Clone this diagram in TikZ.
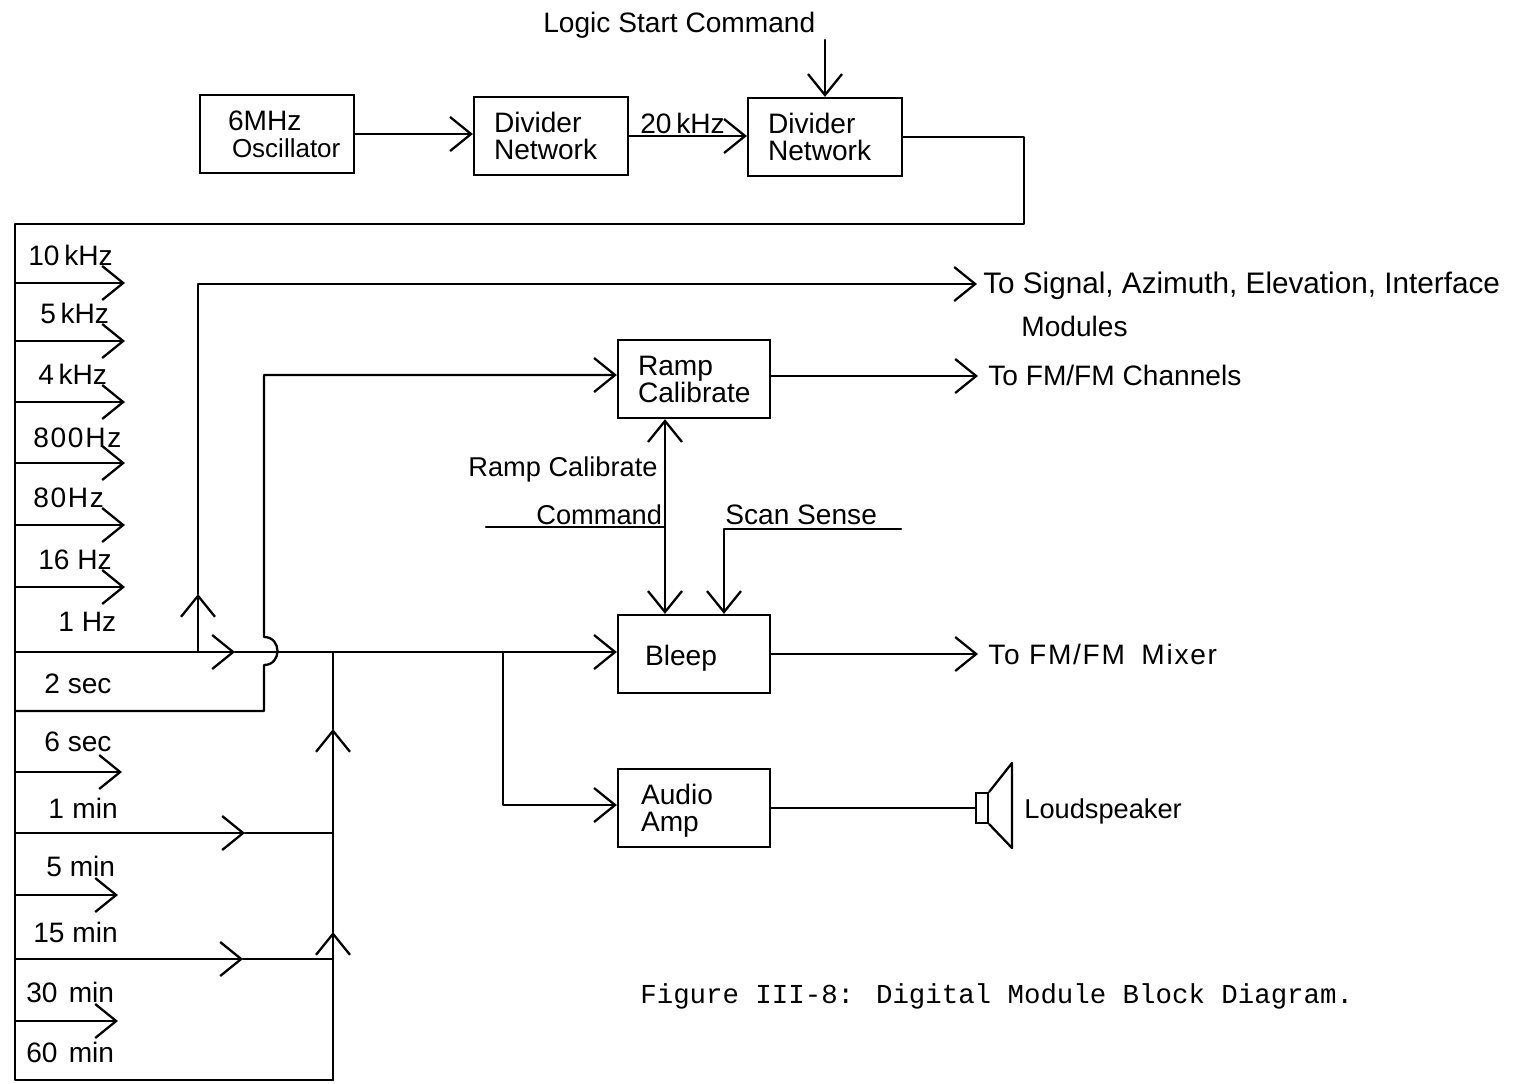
\documentclass[tikz,border=0pt]{standalone}
\usepackage{fontspec}
\setmainfont{Liberation Sans}
\newfontfamily\typedfont{Liberation Mono}
\newfontfamily\widefont[LetterSpace=6]{Liberation Sans}
\usetikzlibrary{arrows.meta}
\newcommand{\letterfont}{\fontsize{16}{15.4}\selectfont}
\newcommand{\tightfont}{\fontsize{15.5}{15.4}\selectfont}

\begin{document}
\begin{tikzpicture}[x=0.02cm, y=-0.02cm,
    wire/.style={line width=1.3pt, line cap=round, line join=round},
    flow/.style={wire, -{Straight Barb[length=0.42cm, width=0.68cm, line width=1.3pt]}},
    block/.style={draw, line width=1.3pt, font=\letterfont, align=left, inner xsep=0.4cm,
      inner ysep=0pt, text width=2.28cm, minimum height=1.56cm},
    tag/.style={font=\letterfont, anchor=base west, inner sep=0pt}]
    \useasboundingbox (0,0) rectangle (1514,1083);
    % Blocks
    \node[block] (osc) at (277,134)
      {\hspace*{0.16cm}6MHz\\\hspace*{0.24cm}\mbox{\fontsize{14.8}{15.4}\selectfont Oscillator}};
    \node[block] (divone) at (551,136) {Divider\\Network};
    \node[block] (divtwo) at (825,137) {Divider\\Network};
    \node[block, text width=2.24cm] (ramp) at (694,379) {Ramp\\Calibrate};
    \node[block, text width=2.24cm] (bleep) at (694,654)
      {\hspace*{0.14cm}\raisebox{-0.02cm}[0.4cm][0cm]{Bleep}};
    \node[block, text width=2.24cm] (audio) at (694,808)
      {\hspace*{0.06cm}\raisebox{0cm}[0.4cm][0cm]{Audio}\\\hspace*{0.06cm}\raisebox{0cm}[0.4cm][0cm]{Amp}};
    % Start command and clock chain
    \node[tag] (logic) at (543,32) {Logic Start Command};
    \coordinate (logicin) at (825,40);
    \draw[flow] (logicin) -- (divtwo.north);
    \draw[flow] (osc.east) -- (divone.west |- osc.east);
    \draw[flow] (divone.east) -- (divtwo.west |- divone.east);
    \node[tag] (khzlink) at (640,133) {20\,kHz};
    \coordinate (busnorth) at (1024,137);
    \coordinate (buseast) at (1024,224);
    \coordinate (buswest) at (15,224);
    \coordinate (buscorner) at (15,1080);
    \coordinate (collbottom) at (333,1080);
    \draw[wire] (divtwo.east) -- (busnorth) -- (buseast) -- (buswest) -- (buscorner) -- (collbottom);
    % Rates on the left
    \node[tag] (ratea) at (28,265) {10\,kHz};
    \coordinate (ratealeft) at (15,283);
    \coordinate (rateaend) at (125,283);
    \draw[flow] (ratealeft) -- (rateaend);
    \node[tag] (rateb) at (40,323) {5\,kHz};
    \coordinate (rateblft) at (15,341);
    \coordinate (ratebend) at (125,341);
    \draw[flow] (rateblft) -- (ratebend);
    \node[tag] (ratec) at (38,384) {4\,kHz};
    \coordinate (rateclft) at (15,402);
    \coordinate (ratecend) at (125,402);
    \draw[flow] (rateclft) -- (ratecend);
    \node[tag, font=\widefont\letterfont] (rated) at (33,447) {800Hz};
    \coordinate (rateolft) at (15,463);
    \coordinate (ratedend) at (125,463);
    \draw[flow] (rateolft) -- (ratedend);
    \node[tag, font=\widefont\letterfont] (ratee) at (33,507) {80Hz};
    \coordinate (rateelft) at (15,525);
    \coordinate (rateeend) at (125,525);
    \draw[flow] (rateelft) -- (rateeend);
    \node[tag] (ratef) at (38,569) {16 Hz};
    \coordinate (rateflft) at (15,587);
    \coordinate (ratefend) at (125,587);
    \draw[flow] (rateflft) -- (ratefend);
    \node[tag] (rateg) at (58,631) {1 Hz};
    \node[tag] (timea) at (44,693) {2 sec};
    \node[tag] (timeb) at (44,751) {6 sec};
    \coordinate (timeblft) at (15,772);
    \coordinate (timebend) at (122,772);
    \draw[flow] (timeblft) -- (timebend);
    \node[tag] (timec) at (48,818) {1\hspace{0.3em}min};
    \node[tag] (timed) at (46,876) {5 min};
    \coordinate (timedlft) at (15,895);
    \coordinate (timedend) at (118,895);
    \draw[flow] (timedlft) -- (timedend);
    \node[tag] (timee) at (33,942) {15 min};
    \node[tag] (timef) at (26,1002) {30\hspace{0.4em}min};
    \coordinate (timeflft) at (15,1021);
    \coordinate (timefend) at (118,1021);
    \draw[flow] (timeflft) -- (timefend);
    \node[tag] (timeg) at (26,1062) {60\hspace{0.4em}min};
    % Collector into Bleep
    \coordinate (mainlft) at (15,652);
    \coordinate (maintip) at (235,652);
    \coordinate (collmain) at (333,652);
    \coordinate (collupa) at (333,729);
    \coordinate (collupb) at (333,932);
    \coordinate (branch) at (503,652);
    \draw[flow] (mainlft) -- (maintip);
    \draw[flow] (maintip) -- (collmain) -- (bleep.west |- collmain);
    \draw[flow] (collbottom) -- (collupb);
    \draw[flow] (collupb) -- (collupa);
    \draw[wire] (collupa) -- (collmain);
    \coordinate (minlft) at (15,833);
    \coordinate (mintip) at (245,833);
    \coordinate (minjoin) at (333,833);
    \draw[flow] (minlft) -- (mintip);
    \draw[wire] (mintip) -- (minjoin);
    \coordinate (quartlft) at (15,959);
    \coordinate (quarttip) at (243,959);
    \coordinate (quartjoin) at (333,959);
    \draw[flow] (quartlft) -- (quarttip);
    \draw[wire] (quarttip) -- (quartjoin);
    \coordinate (branchaudio) at (503,805);
    \draw[flow] (branch) -- (branchaudio) -- (audio.west |- branchaudio);
    % Ramp line, hops over the main line
    \coordinate (ramplft) at (15,711);
    \coordinate (rampfoot) at (264,711);
    \coordinate (hopin) at (264,665);
    \coordinate (hopout) at (264,637);
    \coordinate (ramptop) at (264,375);
    \draw[flow] (ramplft) -- (rampfoot) -- (hopin)
      .. controls (282,665) and (282,637) .. (hopout) -- (ramptop) -- (ramp.west |- ramptop);
    % Line to the modules
    \coordinate (sigfoot) at (198,652);
    \coordinate (sigtip) at (198,594);
    \coordinate (sigtop) at (198,284);
    \coordinate (sigend) at (977,284);
    \draw[flow] (sigfoot) -- (sigtip);
    \draw[flow] (sigtip) -- (sigtop) -- (sigend);
    \node[tag, font=\fontsize{16.9}{18}\selectfont] (signal) at (983,293) {To Signal, Azimuth, Elevation, Interface};
    \node[tag] (modules) at (1021,336) {Modules};
    % Outputs
    \coordinate (fmchan) at (978,376);
    \coordinate (fmmix) at (978,654);
    \draw[flow] (ramp.east |- fmchan) -- (fmchan);
    \draw[flow] (bleep.east) -- (fmmix);
    \node[tag] (channels) at (988,385) {To FM/FM Channels};
    \node[tag, font=\widefont\letterfont] (mixer) at (988,664) {To FM/FM\hspace{0.25em} Mixer};
    % Commands between Ramp and Bleep
    \coordinate (cmdlft) at (486,527);
    \coordinate (cmdjoin) at (665,527);
    \draw[wire] (cmdlft) -- (cmdjoin);
    \draw[flow] (cmdjoin) -- (ramp.south -| cmdjoin);
    \draw[flow] (cmdjoin) -- (bleep.north -| cmdjoin);
    \node[tag, font=\tightfont] (rampcmd) at (468,476) {Ramp Calibrate};
    \node[tag, font=\tightfont] (command) at (536,524) {Command};
    \coordinate (scanrgt) at (901,529);
    \coordinate (scanturn) at (724,529);
    \draw[flow] (scanrgt) -- (scanturn) -- (bleep.north -| scanturn);
    \node[tag] (scan) at (725,524) {Scan Sense};
    % Loudspeaker
    \node[draw, line width=1.3pt, minimum width=0.24cm, minimum height=0.6cm, inner sep=0pt] (coil) at (982,808) {};
    \coordinate (conetop) at (1012,763);
    \coordinate (conebot) at (1012,848);
    \draw[wire] (audio.east) -- (coil.west);
    \draw[wire] (coil.north east) -- (conetop) -- (conebot) -- (coil.south east);
    \node[tag, font=\tightfont] (speaker) at (1024,818) {Loudspeaker};
    % Caption
    \node[tag, font=\typedfont\fontsize{15.6}{18}\selectfont] (caption) at (640,1003)
      {Figure III-8: Digital Module Block Diagram.};
  \end{tikzpicture}
\end{document}
